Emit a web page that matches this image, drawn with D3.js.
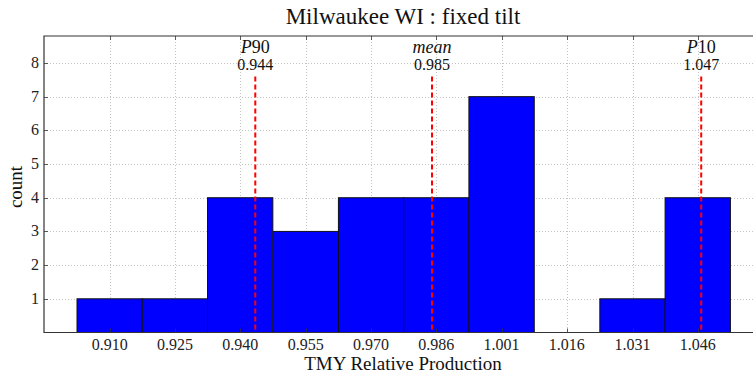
<!DOCTYPE html>
<html>
<head>
<meta charset="utf-8">
<script src="https://cdn.jsdelivr.net/npm/d3@7"></script>
<style>
  body { margin: 0; background: #fff; }
  svg text { font-family: 'Liberation Serif', 'Times New Roman', 'DejaVu Serif', serif; }
</style>
</head>
<body>
<svg id="chart" width="753" height="374"></svg>
<script>
// histogram of yearly relative production
const binCenters = [0.9100, 0.9251, 0.9402, 0.9554, 0.9705, 0.9856, 1.0007, 1.0158, 1.0310, 1.0461];
const counts = [1, 1, 4, 3, 4, 4, 7, 0, 1, 4];
const tickLabels = ['0.910', '0.925', '0.940', '0.955', '0.970', '0.986', '1.001', '1.016', '1.031', '1.046'];
const yTicks = [1, 2, 3, 4, 5, 6, 7, 8];

// reference lines
const markerNames = ['P', 'mean', 'P'];
const markerSuffix = ['90', '', '10'];
const markerValues = [0.9437, 0.9846, 1.0469];

const binWidth = (binCenters[binCenters.length - 1] - binCenters[0]) / (binCenters.length - 1);

const svg = d3.select('#chart');
const x = d3.scaleLinear().domain([0.8948, 1.0612]).range([44, 763]);
const y = d3.scaleLinear().domain([0, 8.8]).range([332.5, 36]);
const [x0, x1] = x.range();
const [yb, yt] = y.range();

// grid
const grid = svg.append('g')
    .attr('stroke', '#b4b4b4')
    .attr('stroke-width', 0.8)
    .attr('stroke-dasharray', '1,2');
grid.selectAll('.gx').data(binCenters).enter().append('line')
    .attr('x1', d => Math.round(x(d)) + 0.5).attr('x2', d => Math.round(x(d)) + 0.5)
    .attr('y1', yt).attr('y2', yb);
grid.selectAll('.gy').data(yTicks).enter().append('line')
    .attr('y1', d => Math.round(y(d)) + 0.5).attr('y2', d => Math.round(y(d)) + 0.5)
    .attr('x1', x0).attr('x2', x1);

// bars
svg.append('g').selectAll('rect')
    .data(counts.map((c, i) => ({ c: c, x: binCenters[i] })).filter(d => d.c > 0))
    .enter().append('rect')
    .attr('x', d => x(d.x - binWidth / 2))
    .attr('width', d => x(d.x + binWidth / 2) - x(d.x - binWidth / 2))
    .attr('y', d => y(d.c))
    .attr('height', d => y(0) - y(d.c))
    .attr('fill', '#0000ff')
    .attr('stroke', '#111')
    .attr('stroke-width', 1);

// dashed markers
svg.append('g').selectAll('line')
    .data(markerValues).enter().append('line')
    .attr('x1', d => x(d)).attr('x2', d => x(d))
    .attr('y1', y(7.6)).attr('y2', yb)
    .attr('stroke', '#ff0000')
    .attr('stroke-width', 2)
    .attr('stroke-dasharray', '5,3');

const lab = svg.append('g').attr('text-anchor', 'middle').attr('fill', '#111');
markerValues.forEach((v, i) => {
    const t = lab.append('text').attr('x', x(v)).attr('y', 53).style('font-size', '18px');
    t.append('tspan').attr('font-style', 'italic').text(markerNames[i]);
    if (markerSuffix[i]) t.append('tspan').text(markerSuffix[i]);
    lab.append('text').attr('x', x(v)).attr('y', 70).style('font-size', '16px').text(v.toFixed(3));
});

// ticks (inward, matplotlib classic)
const ticks = svg.append('g').attr('stroke', '#333').attr('stroke-width', 0.8);
binCenters.forEach(d => {
    const px = Math.round(x(d)) + 0.5;
    ticks.append('line').attr('x1', px).attr('x2', px).attr('y1', yb).attr('y2', yb - 4);
    ticks.append('line').attr('x1', px).attr('x2', px).attr('y1', yt).attr('y2', yt + 4);
});
yTicks.forEach(d => {
    const py = Math.round(y(d)) + 0.5;
    ticks.append('line').attr('x1', x0).attr('x2', x0 + 4).attr('y1', py).attr('y2', py);
});

// frame
svg.append('path')
    .attr('d', `M${x1},${yt}H${x0}V${yb}H${x1}`)
    .attr('fill', 'none').attr('stroke', '#333').attr('stroke-width', 1.2);

// tick labels
svg.append('g').selectAll('text').data(binCenters).enter().append('text')
    .attr('x', d => x(d)).attr('y', 350)
    .attr('text-anchor', 'middle').style('font-size', '16px').attr('fill', '#222')
    .text((d, i) => tickLabels[i]);
svg.append('g').selectAll('text').data(yTicks).enter().append('text')
    .attr('x', 39).attr('y', d => y(d) + 5)
    .attr('text-anchor', 'end').style('font-size', '16px').attr('fill', '#222')
    .text(d => d);

// titles
svg.append('text').attr('x', 403).attr('y', 24).attr('text-anchor', 'middle')
    .style('font-size', '23px').attr('fill', '#111').text('Milwaukee WI : fixed tilt');
svg.append('text').attr('x', 403).attr('y', 370).attr('text-anchor', 'middle')
    .style('font-size', '19px').attr('fill', '#111').text('TMY Relative Production');
svg.append('text').attr('transform', 'translate(22,187) rotate(-90)').attr('text-anchor', 'middle')
    .style('font-size', '19px').attr('fill', '#111').text('count');
</script>
</body>
</html>
